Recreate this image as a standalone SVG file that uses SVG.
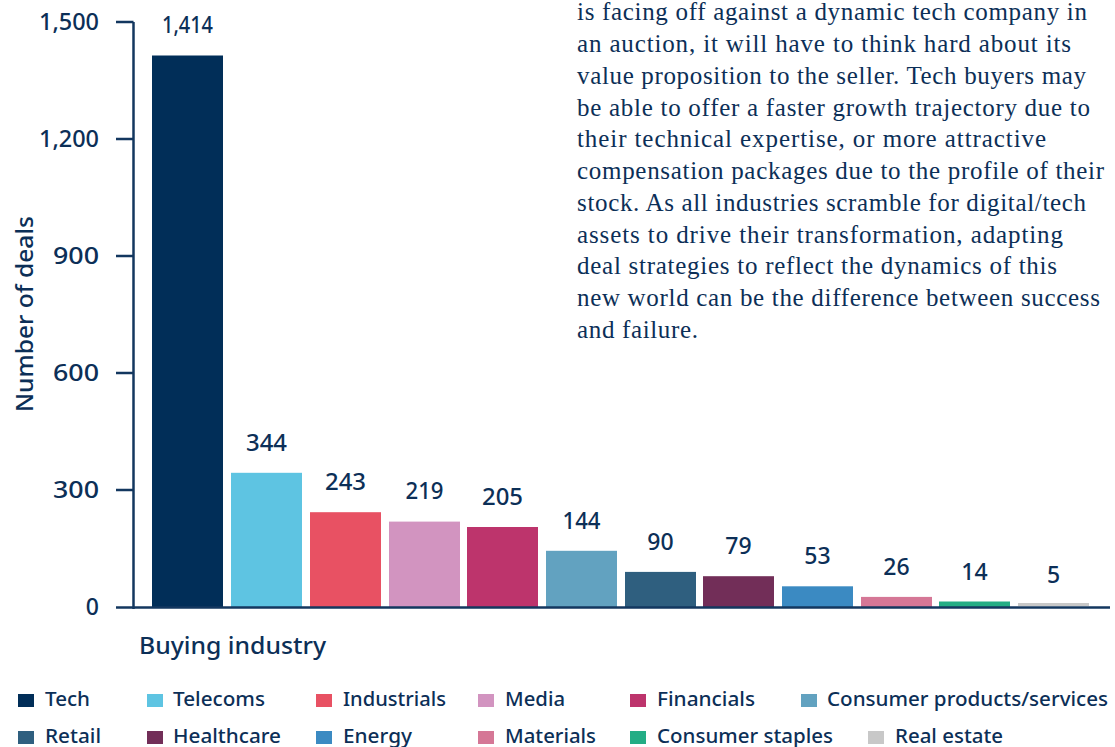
<svg xmlns="http://www.w3.org/2000/svg" width="1115" height="747" viewBox="0 0 1115 747">
<style>
.s{font-family:"Noto Sans","Open Sans","Liberation Sans",sans-serif;fill:#0c2f57;font-weight:500}
.ax{font-size:23px;text-anchor:end}
.val{font-size:23px;text-anchor:middle}
.lg{font-size:20.5px}
.p{font-family:"Liberation Serif","DejaVu Serif",serif;font-size:25px;fill:#0c2f57}
.axis{stroke:#13375f;stroke-width:2.5;fill:none}
</style>
<rect width="1115" height="747" fill="#ffffff"/>
<g id="paragraph">
<text class="p" x="577" y="20" textLength="510" lengthAdjust="spacing">is facing off against a dynamic tech company in</text>
<text class="p" x="577" y="52" textLength="494" lengthAdjust="spacing">an auction, it will have to think hard about its</text>
<text class="p" x="577" y="83.5" textLength="509" lengthAdjust="spacing">value proposition to the seller. Tech buyers may</text>
<text class="p" x="577" y="115.5" textLength="513" lengthAdjust="spacing">be able to offer a faster growth trajectory due to</text>
<text class="p" x="577" y="147" textLength="469" lengthAdjust="spacing">their technical expertise, or more attractive</text>
<text class="p" x="577" y="179" textLength="527" lengthAdjust="spacing">compensation packages due to the profile of their</text>
<text class="p" x="577" y="210.5" textLength="509" lengthAdjust="spacing">stock. As all industries scramble for digital/tech</text>
<text class="p" x="577" y="242.5" textLength="486" lengthAdjust="spacing">assets to drive their transformation, adapting</text>
<text class="p" x="577" y="274" textLength="480" lengthAdjust="spacing">deal strategies to reflect the dynamics of this</text>
<text class="p" x="577" y="306" textLength="523" lengthAdjust="spacing">new world can be the difference between success</text>
<text class="p" x="577" y="337.5" textLength="121" lengthAdjust="spacing">and failure.</text>
</g>
<g id="y-axis">
<text class="s" font-size="23" transform="translate(33,314) rotate(-90)" text-anchor="middle" textLength="196" lengthAdjust="spacingAndGlyphs">Number of deals</text>
<text class="s ax" x="99" y="30" textLength="60" lengthAdjust="spacingAndGlyphs">1,500</text>
<text class="s ax" x="99" y="147" textLength="60" lengthAdjust="spacingAndGlyphs">1,200</text>
<text class="s ax" x="99" y="264" textLength="46" lengthAdjust="spacingAndGlyphs">900</text>
<text class="s ax" x="99" y="381" textLength="46" lengthAdjust="spacingAndGlyphs">600</text>
<text class="s ax" x="99" y="498" textLength="46" lengthAdjust="spacingAndGlyphs">300</text>
<text class="s ax" x="99" y="615">0</text>
</g>
<g id="bars">
<g id="bar-tech"><rect x="152" y="55.5" width="71" height="551.5" fill="#012e58"/><text class="s val" x="187.5" y="33" textLength="51" lengthAdjust="spacingAndGlyphs">1,414</text></g>
<g id="bar-telecoms"><rect x="231" y="472.8" width="71" height="134.2" fill="#5ec4e2"/><text class="s val" x="266.5" y="450.5" textLength="41" lengthAdjust="spacingAndGlyphs">344</text></g>
<g id="bar-industrials"><rect x="310" y="512.2" width="71" height="94.8" fill="#e85163"/><text class="s val" x="345.5" y="490" textLength="41" lengthAdjust="spacingAndGlyphs">243</text></g>
<g id="bar-media"><rect x="389" y="521.6" width="71" height="85.4" fill="#d294c0"/><text class="s val" x="424.5" y="499" textLength="38" lengthAdjust="spacingAndGlyphs">219</text></g>
<g id="bar-financials"><rect x="467" y="527" width="71" height="80" fill="#bd346c"/><text class="s val" x="502.5" y="505" textLength="41" lengthAdjust="spacingAndGlyphs">205</text></g>
<g id="bar-consumer-products"><rect x="546" y="550.8" width="71" height="56.2" fill="#62a2c0"/><text class="s val" x="581.5" y="529" textLength="38" lengthAdjust="spacingAndGlyphs">144</text></g>
<g id="bar-retail"><rect x="625" y="571.9" width="71" height="35.1" fill="#2f5f7f"/><text class="s val" x="660.5" y="550">90</text></g>
<g id="bar-healthcare"><rect x="703" y="576.2" width="71" height="30.8" fill="#722e58"/><text class="s val" x="738.5" y="554">79</text></g>
<g id="bar-energy"><rect x="782" y="586.3" width="71" height="20.7" fill="#3b8ac2"/><text class="s val" x="817.5" y="564">53</text></g>
<g id="bar-materials"><rect x="861" y="596.9" width="71" height="10.1" fill="#d57796"/><text class="s val" x="896.5" y="575">26</text></g>
<g id="bar-consumer-staples"><rect x="939" y="601.5" width="71" height="5.5" fill="#23ad85"/><text class="s val" x="974.5" y="579.5">14</text></g>
<g id="bar-real-estate"><rect x="1018" y="603" width="71" height="3" fill="#c8c8c8"/><text class="s val" x="1053.5" y="583">5</text></g>
</g>
<g id="connectors">
<path class="axis" d="M133.5 22 V609"/>
<path class="axis" d="M116 22 H133.5 M116 139 H133.5 M116 256 H133.5 M116 373 H133.5 M116 490 H133.5"/>
<path class="axis" d="M116 607.5 H1110"/>
</g>
<text id="x-title" class="s" font-size="23" x="139" y="654" textLength="187" lengthAdjust="spacingAndGlyphs">Buying industry</text>
<g id="legend">
<g id="lg-tech"><rect x="18" y="694" width="16" height="13" fill="#012e58"/><text class="s lg" x="45" y="706" textLength="45" lengthAdjust="spacingAndGlyphs">Tech</text></g>
<g id="lg-telecoms"><rect x="147" y="694" width="16" height="13" fill="#5ec4e2"/><text class="s lg" x="173" y="706" textLength="92" lengthAdjust="spacingAndGlyphs">Telecoms</text></g>
<g id="lg-industrials"><rect x="316" y="694" width="16" height="13" fill="#e85163"/><text class="s lg" x="343" y="706" textLength="103" lengthAdjust="spacingAndGlyphs">Industrials</text></g>
<g id="lg-media"><rect x="478" y="694" width="16" height="13" fill="#d294c0"/><text class="s lg" x="505" y="706" textLength="60" lengthAdjust="spacingAndGlyphs">Media</text></g>
<g id="lg-financials"><rect x="630" y="694" width="16" height="13" fill="#bd346c"/><text class="s lg" x="657" y="706" textLength="98" lengthAdjust="spacingAndGlyphs">Financials</text></g>
<g id="lg-consumer-products"><rect x="801" y="694" width="16" height="13" fill="#62a2c0"/><text class="s lg" x="827" y="706" textLength="281" lengthAdjust="spacingAndGlyphs">Consumer products/services</text></g>
<g id="lg-retail"><rect x="18" y="731" width="16" height="13" fill="#2f5f7f"/><text class="s lg" x="45" y="742.5" textLength="56" lengthAdjust="spacingAndGlyphs">Retail</text></g>
<g id="lg-healthcare"><rect x="147" y="731" width="16" height="13" fill="#722e58"/><text class="s lg" x="173" y="742.5" textLength="108" lengthAdjust="spacingAndGlyphs">Healthcare</text></g>
<g id="lg-energy"><rect x="316" y="731" width="16" height="13" fill="#3b8ac2"/><text class="s lg" x="343" y="742.5" textLength="69" lengthAdjust="spacingAndGlyphs">Energy</text></g>
<g id="lg-materials"><rect x="478" y="731" width="16" height="13" fill="#d57796"/><text class="s lg" x="505" y="742.5" textLength="91" lengthAdjust="spacingAndGlyphs">Materials</text></g>
<g id="lg-consumer-staples"><rect x="630" y="731" width="16" height="13" fill="#23ad85"/><text class="s lg" x="657" y="742.5" textLength="176" lengthAdjust="spacingAndGlyphs">Consumer staples</text></g>
<g id="lg-real-estate"><rect x="868" y="731" width="16" height="13" fill="#c8c8c8"/><text class="s lg" x="895" y="742.5" textLength="108" lengthAdjust="spacingAndGlyphs">Real estate</text></g>
</g>
</svg>
